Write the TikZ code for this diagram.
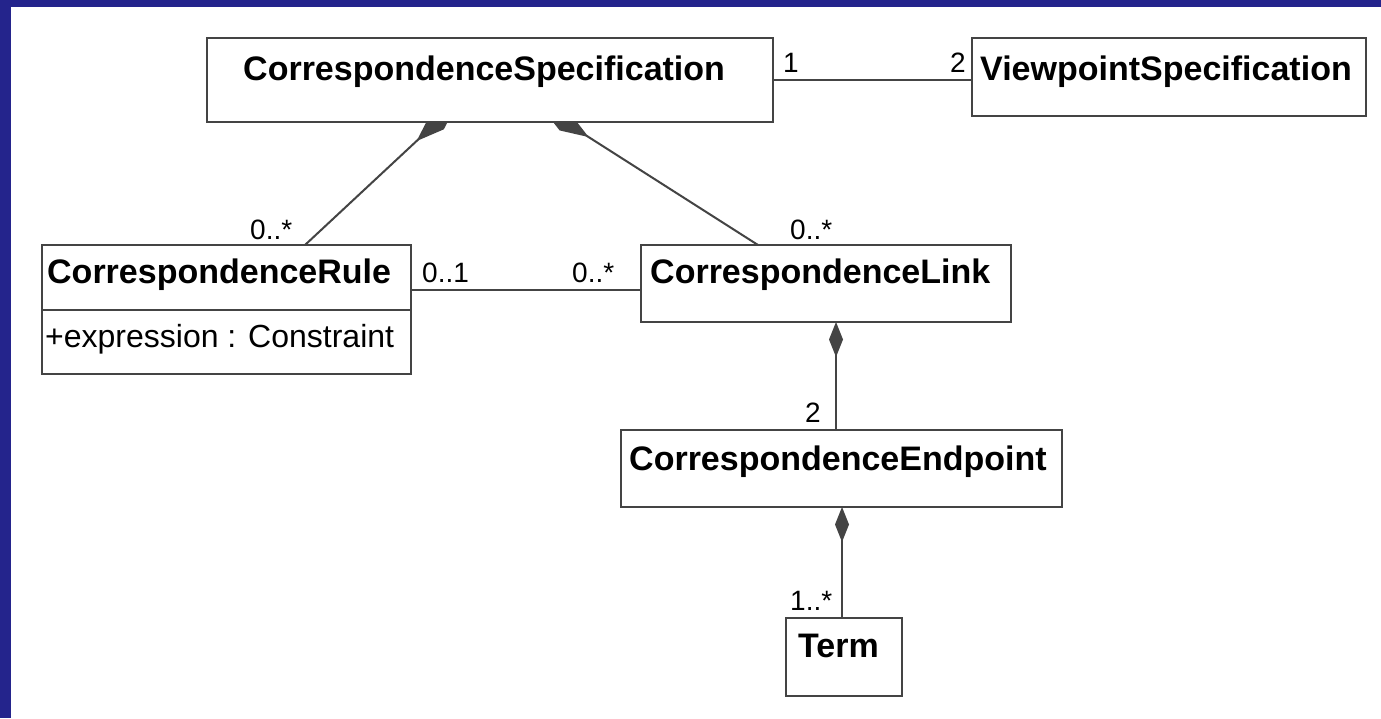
\documentclass[tikz,border=0pt]{standalone}
\usepackage{fontspec}
\setmainfont{Liberation Sans}
\usetikzlibrary{arrows.meta,calc}
\pgfdeclarelayer{bg}
\pgfsetlayers{bg,main}
\definecolor{bandblue}{RGB}{36,36,140}
\definecolor{umlline}{RGB}{68,68,68}
\begin{document}
\begin{tikzpicture}[x=1pt,y=-1pt,
  umlbox/.style={draw=umlline,line width=2.2pt,fill=white,rectangle,inner sep=0pt,outer sep=0pt,anchor=north west},
  title/.style={anchor=base west,inner sep=0pt,font=\fontsize{34}{38}\selectfont\bfseries},
  attr/.style={anchor=base west,inner sep=0pt,font=\fontsize{32}{36}\selectfont},
  mult/.style={anchor=base west,inner sep=0pt,font=\fontsize{28}{32}\selectfont},
  assoc/.style={draw=umlline,line width=2pt},
  comp/.style={draw=umlline,line width=2pt,{Diamond[length=35pt,width=14pt,fill=umlline]}-},
  compdiag/.style={draw=umlline,line width=2pt,{Diamond[length=56pt,width=20pt,fill=umlline]}-}
]
\useasboundingbox (0,0) rectangle (1381,718);

% boxes
\node[umlbox,minimum width=566pt,minimum height=84pt] (spec) at (207,38) {};
\node[umlbox,minimum width=394pt,minimum height=78pt] (view) at (972,38) {};
\node[umlbox,minimum width=369pt,minimum height=129pt] (rule) at (42,245) {};
\node[umlbox,minimum width=370pt,minimum height=77pt] (link) at (641,245) {};
\node[umlbox,minimum width=441pt,minimum height=77pt] (endp) at (621,430) {};
\node[umlbox,minimum width=116pt,minimum height=78pt] (term) at (786,618) {};
\coordinate (rulesepL) at ($(rule.north west)+(0,65)$);
\coordinate (rulesepR) at ($(rule.north east)+(0,65)$);
\draw[draw=umlline,line width=2.2pt] (rulesepL) -- (rulesepR);

% diagonal compositions, drawn under the boxes
\coordinate (c1a) at ($(spec.south west)+(230,0)$);
\coordinate (c1b) at ($(rule.north west)+(263,0)$);
\coordinate (c2a) at ($(spec.south west)+(358,0)$);
\coordinate (c2b) at ($(link.north west)+(117,0)$);
\begin{pgfonlayer}{bg}
\fill[white] (0,0) rectangle (1381,718);
\fill[bandblue] (0,0) rectangle (1381,7);
\fill[bandblue] (0,0) rectangle (11,718);
\draw[compdiag] ($(c1a)!-28pt!(c1b)$) -- (c1b);
\draw[compdiag] ($(c2a)!-28pt!(c2b)$) -- (c2b);
\end{pgfonlayer}

% titles
\node[title] (specT) at (243,80) {CorrespondenceSpecification};
\node[title] (viewT) at (980,80) {ViewpointSpecification};
\node[title] (ruleT) at (47,283) {CorrespondenceRule};
\node[attr] (ruleA) at (45,347) {+expression : Constraint};
\node[title] (linkT) at (650,283) {CorrespondenceLink};
\node[title] (endpT) at (629,470) {CorrespondenceEndpoint};
\node[title] (termT) at (798,657) {Term};

% connectors
\draw[assoc] (spec.east) -- (spec.east -| view.west);
\draw[assoc] ($(rule.north east)+(0,45)$) -- ($(link.north west)+(0,45)$);
\draw[comp] ($(link.south west)+(195,0)$) -- ($(endp.north west)+(215,0)$);
\draw[comp] ($(endp.south west)+(221,0)$) -- ($(term.north west)+(56,0)$);

% multiplicities
\node[mult] (m1) at (783,72) {1};
\node[mult] (m2) at (950,72) {2};
\node[mult] (m3) at (250,239) {0..*};
\node[mult] (m4) at (790,239) {0..*};
\node[mult] (m5) at (422,282) {0..1};
\node[mult] (m6) at (572,282) {0..*};
\node[mult] (m7) at (805,422) {2};
\node[mult] (m8) at (790,610) {1..*};
\end{tikzpicture}
\end{document}
